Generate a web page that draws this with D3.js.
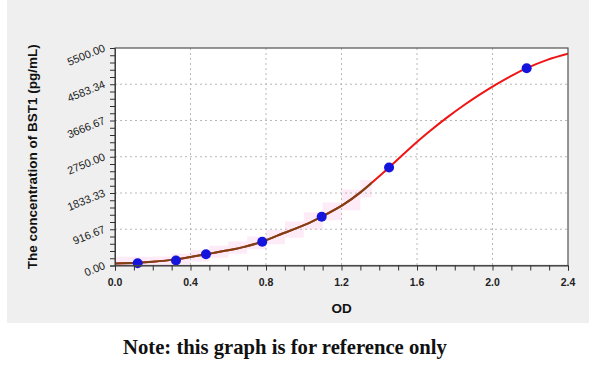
<!DOCTYPE html>
<html>
<head>
<meta charset="utf-8">
<script src="https://cdn.jsdelivr.net/npm/d3@7"></script>
<style>
  html, body { margin: 0; padding: 0; background: #ffffff; }
  svg { display: block; }
</style>
</head>
<body>
<svg id="chart" width="600" height="367"></svg>
<script>
// ---- data ----
const xTicks = [0.0, 0.4, 0.8, 1.2, 1.6, 2.0, 2.4];
const yTicks = [0.00, 916.67, 1833.33, 2750.00, 3666.67, 4583.34, 5500.00];
const yTickLabels = ["0.00", "916.67", "1833.33", "2750.00", "3666.67", "4583.34", "5500.00"];
const xTickLabels = ["0.0", "0.4", "0.8", "1.2", "1.6", "2.0", "2.4"];

// standards (OD, concentration)
const pointOD   = [0.120, 0.323, 0.482, 0.780, 1.095, 1.452, 2.181];
const pointConc = [56, 126, 283, 602, 1234, 2478, 4987];

// fitted curve
const curveOD   = [0, 0.12, 0.2, 0.323, 0.4, 0.482, 0.6, 0.68, 0.78, 0.86, 1.03, 1.095, 1.21, 1.3, 1.452, 1.58, 1.67, 1.76, 1.85, 1.93, 2.02, 2.11, 2.181, 2.29, 2.4];
const curveConc = [52, 70, 95, 155, 215, 283, 385, 465, 605, 755, 1078, 1234, 1540, 1850, 2478, 3041, 3406, 3745, 4059, 4316, 4582, 4822, 4990, 5200, 5355];

// brown (fitted-range) part ends here
const fitRangeEnd = 1.36;

// pink confidence band (stepped)
const bandOD   = [0, 0.1, 0.2, 0.3, 0.4, 0.5, 0.6, 0.7, 0.8, 0.9, 1.0, 1.1, 1.2, 1.3, 1.36];
const bandLow  = [0, 0, 0, 30, 100, 195, 300, 410, 535, 700, 910, 1145, 1395, 1720, 1720];
const bandHigh = [220, 220, 230, 300, 395, 500, 610, 735, 900, 1110, 1345, 1595, 1920, 2160, 2160];

// ---- layout ----
const svg = d3.select("#chart");
const L = 115, R = 568, T = 48, B = 265.5;

const x = d3.scaleLinear().domain([0, 2.4]).range([L, R]);
const y = d3.scaleLinear().domain([0, 5500]).range([B, T]);

// gray panel
svg.append("rect").attr("x", 7).attr("y", 0).attr("width", 582).attr("height", 323)
  .attr("fill", "#efefef");

// plot area
svg.append("rect").attr("x", L).attr("y", T).attr("width", R - L).attr("height", B - T)
  .attr("fill", "#ffffff");

// clip
const defs = svg.append("defs");
defs.append("clipPath").attr("id", "plotClip").append("rect")
  .attr("x", L).attr("y", T).attr("width", R - L).attr("height", B - T);
defs.append("clipPath").attr("id", "fitClip").append("rect")
  .attr("x", L).attr("y", T).attr("width", x(fitRangeEnd) - L).attr("height", B - T);

// band
const bandData = bandOD.map((d, i) => ({ od: d, lo: bandLow[i], hi: bandHigh[i] }));
svg.append("path").datum(bandData)
  .attr("clip-path", "url(#plotClip)")
  .attr("d", d3.area().x(d => x(d.od)).y0(d => y(d.lo)).y1(d => y(d.hi)).curve(d3.curveStepAfter))
  .attr("fill", "#fdebf7").attr("stroke", "none");

// grid
const gridColor = "#b8b8b8";
svg.append("g").selectAll("line").data(xTicks.slice(1, -1)).join("line")
  .attr("x1", d => x(d)).attr("x2", d => x(d)).attr("y1", T).attr("y2", B)
  .attr("stroke", gridColor).attr("stroke-width", 1).attr("stroke-dasharray", "2,3");
svg.append("g").selectAll("line").data(yTicks.slice(1, -1)).join("line")
  .attr("y1", d => y(d)).attr("y2", d => y(d)).attr("x1", L).attr("x2", R)
  .attr("stroke", gridColor).attr("stroke-width", 1).attr("stroke-dasharray", "2,3");

// curve
const curveData = curveOD.map((d, i) => ({ od: d, c: curveConc[i] }));
const line = d3.line().x(d => x(d.od)).y(d => y(d.c)).curve(d3.curveCatmullRom.alpha(0.5));
svg.append("path").datum(curveData).attr("d", line)
  .attr("clip-path", "url(#plotClip)")
  .attr("fill", "none").attr("stroke", "#f01414").attr("stroke-width", 2);
svg.append("path").datum(curveData).attr("d", line)
  .attr("clip-path", "url(#fitClip)")
  .attr("fill", "none").attr("stroke", "#7b4216").attr("stroke-width", 2);

// points
svg.append("g").selectAll("circle").data(pointOD.map((d, i) => ({ od: d, c: pointConc[i] }))).join("circle")
  .attr("cx", d => x(d.od)).attr("cy", d => y(d.c)).attr("r", 5)
  .attr("fill", "#1414dc");

// frame
svg.append("rect").attr("x", L).attr("y", T).attr("width", R - L).attr("height", B - T)
  .attr("fill", "none").attr("stroke", "#505050").attr("stroke-width", 1.2);

// axes
const xMinor = d3.range(0, 24 + 1).map(i => i / 10);
const yMinor = d3.range(0, 30 + 1).map(i => i * 5500 / 30);

const xAxis = d3.axisBottom(x).tickValues(xMinor).tickSize(5).tickFormat("");
svg.append("g").attr("transform", `translate(0,${B})`).call(xAxis)
  .call(g => g.select(".domain").attr("stroke", "#404040"))
  .call(g => g.selectAll(".tick line").attr("stroke", "#303030"));

const yAxis = d3.axisLeft(y).tickValues(yMinor).tickSize(5).tickFormat("");
svg.append("g").attr("transform", `translate(${L},0)`).call(yAxis)
  .call(g => g.select(".domain").attr("stroke", "#404040"))
  .call(g => g.selectAll(".tick line").attr("stroke", "#303030"));

// x labels
svg.append("g").selectAll("text").data(xTicks).join("text")
  .attr("x", d => x(d)).attr("y", B + 20)
  .attr("text-anchor", "middle")
  .attr("font-family", "Liberation Sans, Arial, sans-serif")
  .attr("font-weight", "bold").attr("font-size", 10.5).attr("fill", "#222")
  .text((d, i) => xTickLabels[i]);

// y labels (rotated)
svg.append("g").selectAll("text").data(yTicks).join("text")
  .attr("transform", d => `translate(${L - 9},${y(d) + 3}) rotate(-22)`)
  .attr("text-anchor", "end")
  .attr("font-family", "Liberation Sans, Arial, sans-serif")
  .attr("font-size", 11).attr("fill", "#222")
  .text((d, i) => yTickLabels[i]);

// axis titles
svg.append("text")
  .attr("transform", `translate(37,${(T + B) / 2}) rotate(-90)`)
  .attr("text-anchor", "middle")
  .attr("font-family", "Liberation Sans, Arial, sans-serif")
  .attr("font-weight", "bold").attr("font-size", 13.5).attr("fill", "#111")
  .text("The concentration of BST1 (pg/mL)");

svg.append("text")
  .attr("x", (L + R) / 2).attr("y", 313)
  .attr("text-anchor", "middle")
  .attr("font-family", "Liberation Sans, Arial, sans-serif")
  .attr("font-weight", "bold").attr("font-size", 13.5).attr("fill", "#111")
  .text("OD");

// note
const note = svg.append("text")
  .attr("x", 123).attr("y", 354)
  .attr("font-family", "Liberation Serif, DejaVu Serif, serif")
  .attr("font-weight", "bold").attr("font-size", 19).attr("fill", "#111")
  .text("Note: this graph is for reference only");
const w = note.node().getComputedTextLength();
if (w > 0) note.attr("font-size", 19 * 324 / w);
</script>
</body>
</html>
